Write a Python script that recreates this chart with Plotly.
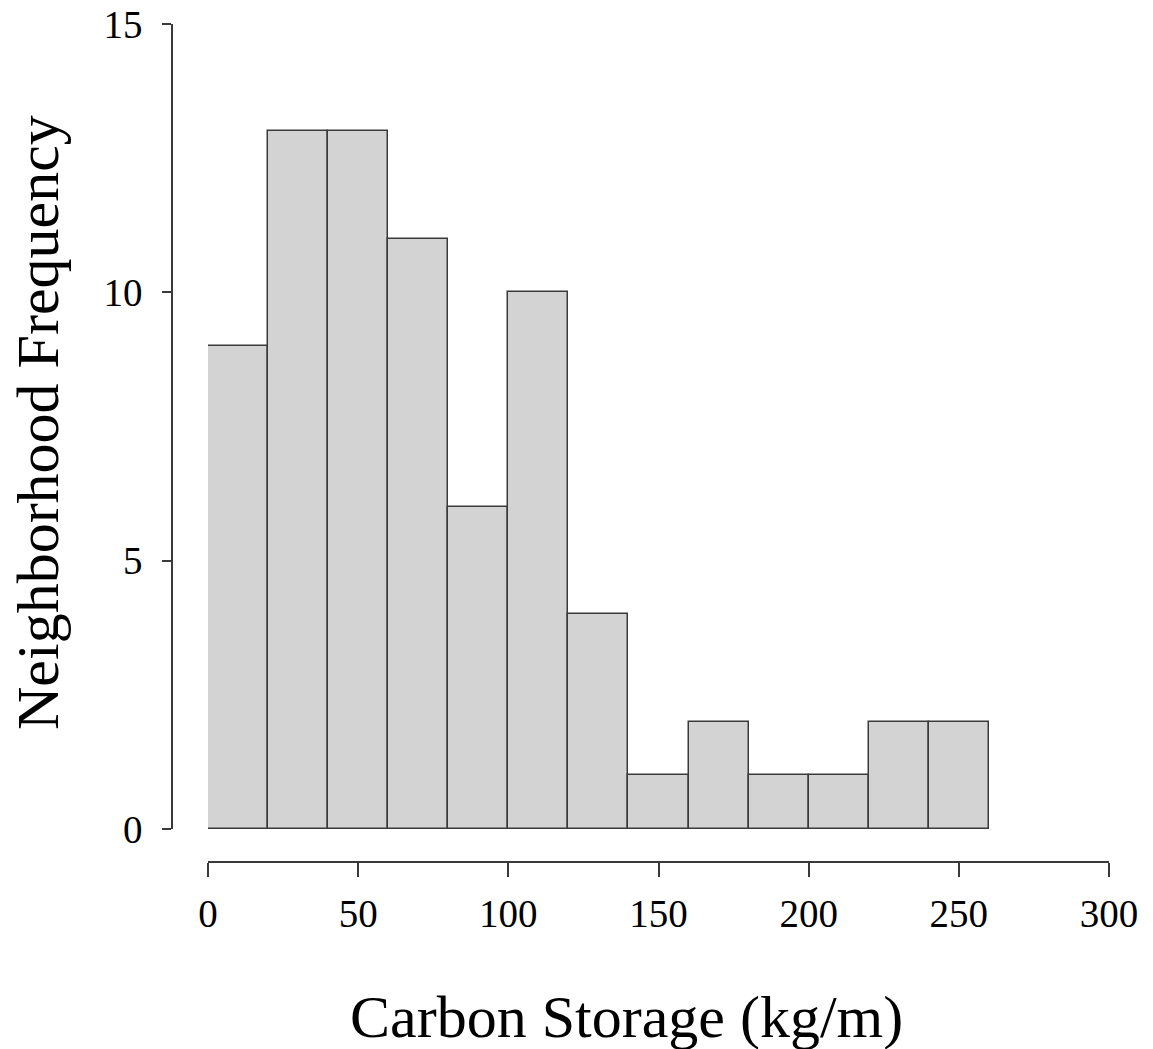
import plotly.graph_objects as go

bin_starts = [0, 20, 40, 60, 80, 100, 120, 140, 160, 180, 200, 220, 240]
bin_width = 20
counts = [9, 13, 13, 11, 6, 10, 4, 1, 2, 1, 1, 2, 2]
x_ticks = [0, 50, 100, 150, 200, 250, 300]
y_ticks = [0, 5, 10, 15]

W, H = 1153, 1049
FONT = "Liberation Serif"
LINE = "#3a3a3a"

centers = [s + bin_width / 2 for s in bin_starts]

fig = go.Figure(go.Bar(
    x=centers, y=counts, width=[bin_width] * len(counts),
    marker=dict(color="#d3d3d3", line=dict(color=LINE, width=1.5)),
    showlegend=False, hoverinfo="skip"))

fig.update_layout(
    width=W, height=H, margin=dict(l=0, r=0, t=0, b=0, autoexpand=False),
    plot_bgcolor="white", paper_bgcolor="white",
    font=dict(family=FONT, size=39, color="black"),
    bargap=0,
    xaxis=dict(domain=[208 / W, 1109 / W], range=[0, 300], anchor="free",
               position=1 - 862 / H, showgrid=False, zeroline=False,
               showline=True, linecolor=LINE, linewidth=1.5, automargin=False,
               ticks="outside", ticklen=14, tickwidth=1.5, tickcolor=LINE,
               tickvals=x_ticks, ticktext=[str(v) for v in x_ticks],
               ticklabelstandoff=3),
    yaxis=dict(domain=[1 - 829 / H, 1 - 24 / H], range=[0, 15], anchor="free",
               position=172 / W, showgrid=False, zeroline=False,
               showline=True, linecolor=LINE, linewidth=1.5, automargin=False,
               ticks="outside", ticklen=9, tickwidth=1.5, tickcolor=LINE,
               tickvals=y_ticks, ticktext=[str(v) for v in y_ticks],
               ticklabelstandoff=12),
    annotations=[
        dict(text="Carbon Storage (kg/m)", x=626 / W, y=1 - 1017 / H,
             xref="paper", yref="paper", showarrow=False,
             font=dict(family=FONT, size=60, color="black"),
             xanchor="center", yanchor="middle"),
        dict(text="Neighborhood Frequency", x=38 / W, y=1 - 423 / H,
             xref="paper", yref="paper", showarrow=False, textangle=-90,
             font=dict(family=FONT, size=60, color="black"),
             xanchor="center", yanchor="middle"),
    ],
)

fig.write_html("out.html")
